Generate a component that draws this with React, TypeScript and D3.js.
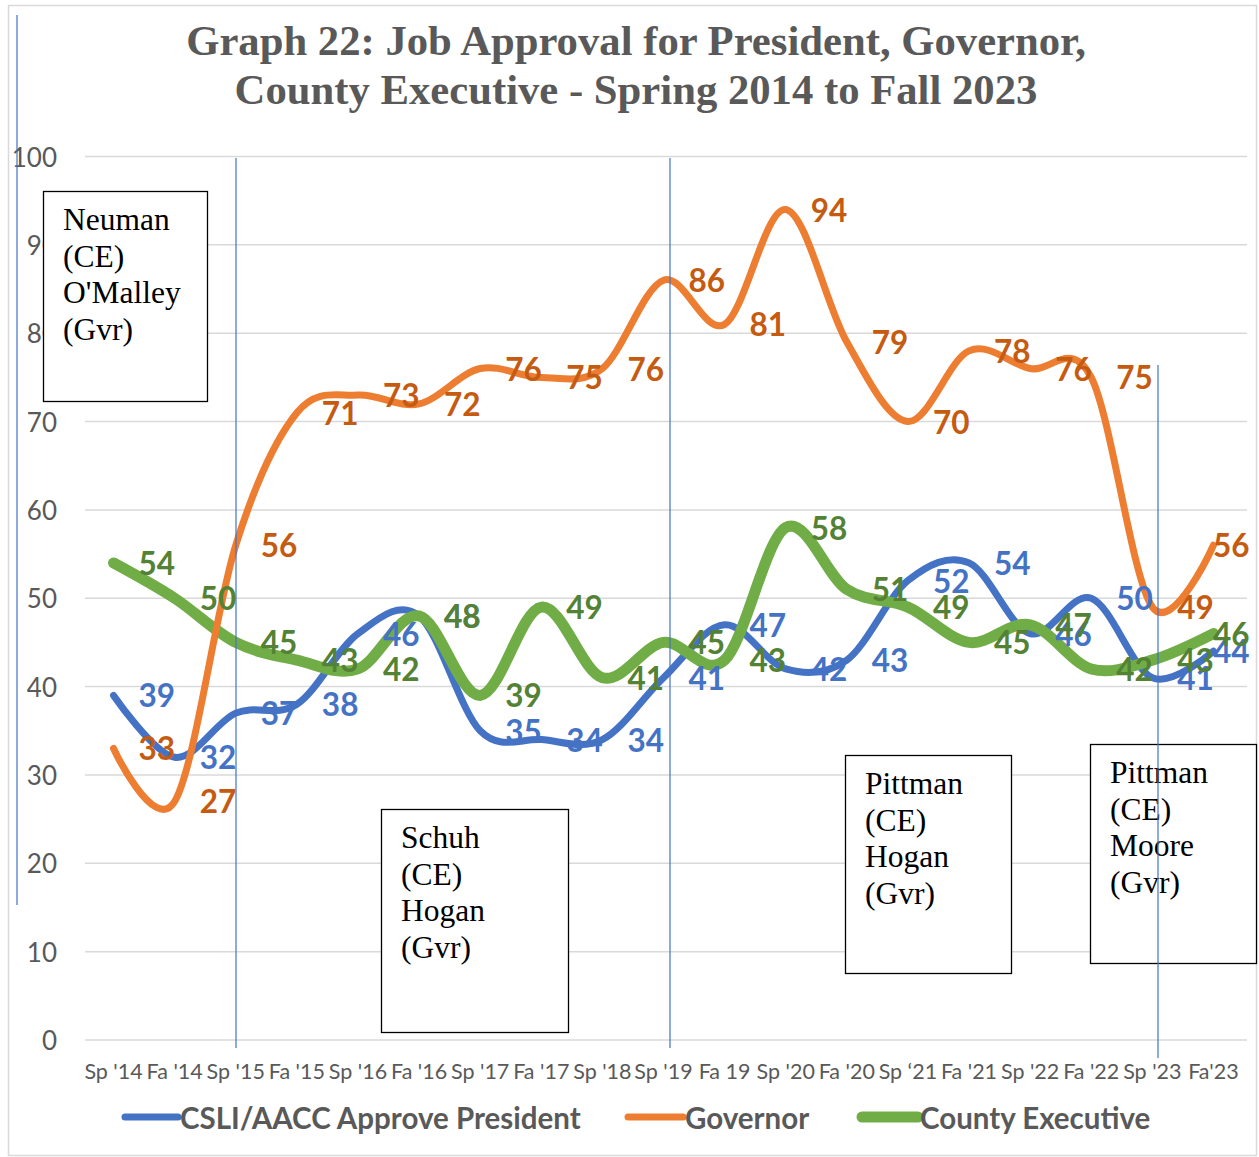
import React from "react";
import * as d3 from "d3";

const categories = ["Sp '14","Fa '14","Sp '15","Fa '15","Sp '16","Fa '16","Sp '17","Fa '17","Sp '18","Sp '19","Fa 19","Sp '20","Fa '20","Sp \u201821","Fa '21","Sp '22","Fa '22","Sp '23","Fa'23"];
const president = [39,32,37,38,46,48,35,34,34,41,47,42,43,52,54,46,50,41,44];
const governor = [33,27,56,71,73,72,76,75,76,86,81,94,79,70,78,76,75,49,56];
const countyExec = [54,50,45,43,42,48,39,49,41,45,43,58,51,49,45,47,42,43,46];
const yTicks = [0,10,20,30,40,50,60,70,80,90,100];
const titleLines = ["Graph 22: Job Approval for President, Governor,", "County Executive - Spring 2014 to Fall 2023"];

const series = [
  { name: "CSLI/AACC Approve President", values: president, color: "#4472C4", label: "#4472C4", width: 7 },
  { name: "County Executive", values: countyExec, color: "#70AD47", label: "#548235", width: 11 },
  { name: "Governor", values: governor, color: "#ED7D31", label: "#C55A11", width: 7 },
];
const legendOrder = [0, 2, 1];
const legendPos = [
  { x1: 125, x2: 178 },
  { x1: 628, x2: 683 },
  { x1: 862, x2: 918 },
];

const boxes = [
  { x: 43, y: 191, w: 164, h: 210, lines: ["Neuman", "(CE)", "O'Malley", "(Gvr)"] },
  { x: 381, y: 809, w: 187, h: 223, lines: ["Schuh", "(CE)", "Hogan", "(Gvr)"] },
  { x: 845, y: 755, w: 166, h: 218, lines: ["Pittman", "(CE)", "Hogan", "(Gvr)"] },
  { x: 1090, y: 744, w: 166, h: 219, lines: ["Pittman", "(CE)", "Moore", "(Gvr)"] },
];
const vLines = [
  { x: 17, y1: 15, y2: 905 },
  { x: 236, y1: 158, y2: 1048 },
  { x: 670, y1: 158, y2: 1048 },
  { x: 1158, y1: 365, y2: 1058 },
];

export default function App() {
  const W = 1259, H = 1157;
  const x = d3.scalePoint<string>().domain(categories).range([83, 1244]).padding(0.5);
  const y = d3.scaleLinear().domain([0, 100]).range([1040, 156.5]);
  const line = d3.line<number>()
    .x((_, i) => x(categories[i]) as number)
    .y((d) => y(d))
    .curve(d3.curveCardinal.tension(0));
  const sans = "Lato, 'Open Sans', sans-serif";
  const serif = "'Liberation Serif', 'Times New Roman', serif";
  const grey = "#595959";
  return (
    <svg width={W} height={H} style={{ position: "absolute", left: 0, top: 0, background: "#fff" }}>
      <rect x={0} y={0} width={W} height={H} fill="#fff" />
      <rect x={8.5} y={5.5} width={1248} height={1150} fill="none" stroke="#D9D9D9" strokeWidth={1.5} />
      {titleLines.map((t, i) => (
        <text key={i} x={636} y={55 + i * 49} textAnchor="middle" fontFamily={serif} fontWeight="bold" fontSize={42.7} fill={grey}>{t}</text>
      ))}
      {yTicks.map((t) => (
        <g key={t}>
          <line x1={85} x2={1247} y1={y(t)} y2={y(t)} stroke="#D9D9D9" strokeWidth={1.5} />
          <text x={57} y={y(t)} textAnchor="end" dominantBaseline="central" fontFamily={sans} fontSize={26} fill={grey}>{t}</text>
        </g>
      ))}
      {categories.map((c) => (
        <text key={c} x={x(c)} y={1071} textAnchor="middle" dominantBaseline="central" fontFamily={sans} fontSize={21.5} fill={grey}>{c}</text>
      ))}
      {series.map((s) => (
        <path key={s.name} d={line(s.values) || ""} fill="none" stroke={s.color} strokeWidth={s.width} strokeLinecap="round" strokeLinejoin="round" />
      ))}
      {series.map((s) => (
        <g key={s.name + "l"}>
          {s.values.map((v, i) => {
            const px = x(categories[i]) as number;
            const lx = Math.min(px + 25, 1213);
            return (
              <text key={i} x={lx} y={y(v)} dominantBaseline="central" fontFamily={sans} fontWeight="bold" fontSize={31.5} fill={s.label}>{v}</text>
            );
          })}
        </g>
      ))}
      {legendOrder.map((si, k) => {
        const s = series[si];
        const p = legendPos[k];
        return (
          <g key={s.name + "lg"}>
            <line x1={p.x1} x2={p.x2} y1={1117} y2={1117} stroke={s.color} strokeWidth={s.width} strokeLinecap="round" />
            <text x={p.x2 + 2} y={1117} dominantBaseline="central" fontFamily={sans} fontWeight="bold" fontSize={29.5} fill={grey}>{s.name}</text>
          </g>
        );
      })}
      {boxes.map((b, i) => (
        <g key={"b" + i}>
          <rect x={b.x + 0.5} y={b.y + 0.5} width={b.w} height={b.h} fill="#fff" stroke="#000" strokeWidth={1.3} />
          {b.lines.map((t, j) => (
            <text key={j} x={b.x + 20} y={b.y + 39 + j * 36.5} fontFamily={serif} fontSize={31.5} fill="#000">{t}</text>
          ))}
        </g>
      ))}
      {vLines.map((l, i) => (
        <line key={"v" + i} x1={l.x} x2={l.x} y1={l.y1} y2={l.y2} stroke="#4472C4" strokeWidth={1.2} />
      ))}
    </svg>
  );
}
